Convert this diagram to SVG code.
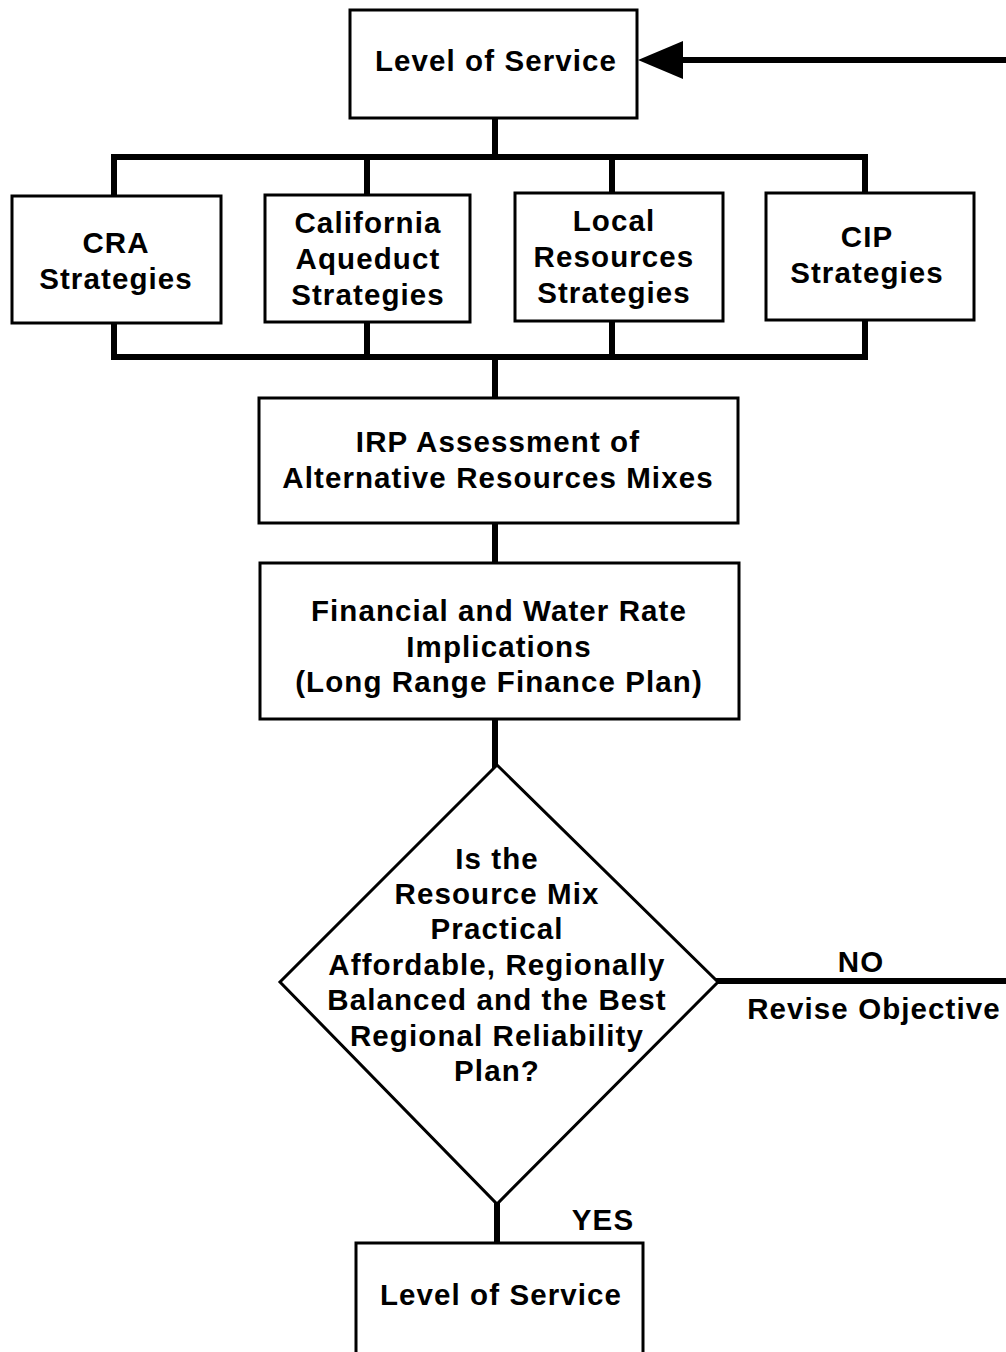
<svg xmlns="http://www.w3.org/2000/svg" width="1006" height="1352" viewBox="0 0 1006 1352">
<style>
.box{fill:#fff;stroke:#000;stroke-width:3}
.bus{fill:none;stroke:#000;stroke-width:6;stroke-linecap:square}
.t{font-family:"Liberation Sans",Arial,sans-serif;font-weight:bold;font-size:29.5px;letter-spacing:1.1px;fill:#000;text-anchor:middle}
</style>
<rect width="1006" height="1352" fill="#fff"/>
<g id="connectors">
<path class="bus" d="M683 60 H1006"/>
<polygon points="638,60 683,41 683,79" fill="#000"/>
<path class="bus" d="M495 118 V157 M114 157 H865 M114 157 V196 M367 157 V195 M612 157 V193 M865 157 V193"/>
<path class="bus" d="M114 323 V357 M367 322 V357 M612 321 V357 M865 320 V357 M114 357 H865 M495 357 V398"/>
<path class="bus" d="M495 523 V563 M495 719 V765"/>
<path class="bus" d="M718 981 H1006"/>
<path class="bus" d="M497 1204 V1243"/>
<text class="t" x="861" y="972">NO</text>
<text class="t" x="874" y="1019">Revise Objective</text>
<text class="t" x="603" y="1230">YES</text>
</g>
<g id="top-los">
<rect class="box" x="350" y="10" width="287" height="108"/>
<text class="t" x="496" y="71">Level of Service</text>
</g>
<g id="cra">
<rect class="box" x="12" y="196" width="209" height="127"/>
<text class="t" x="116" y="253">CRA</text>
<text class="t" x="116" y="289">Strategies</text>
</g>
<g id="california">
<rect class="box" x="265" y="195" width="205" height="127"/>
<text class="t" x="368" y="233">California</text>
<text class="t" x="368" y="269">Aqueduct</text>
<text class="t" x="368" y="305">Strategies</text>
</g>
<g id="local">
<rect class="box" x="515" y="193" width="208" height="128"/>
<text class="t" x="614" y="231">Local</text>
<text class="t" x="614" y="267">Resources</text>
<text class="t" x="614" y="303">Strategies</text>
</g>
<g id="cip">
<rect class="box" x="766" y="193" width="208" height="127"/>
<text class="t" x="867" y="247">CIP</text>
<text class="t" x="867" y="283">Strategies</text>
</g>
<g id="irp">
<rect class="box" x="259" y="398" width="479" height="125"/>
<text class="t" x="498" y="452">IRP Assessment of</text>
<text class="t" x="498" y="488">Alternative Resources Mixes</text>
</g>
<g id="financial">
<rect class="box" x="260" y="563" width="479" height="156"/>
<text class="t" x="499" y="621">Financial and Water Rate</text>
<text class="t" x="499" y="657">Implications</text>
<text class="t" x="499" y="692">(Long Range Finance Plan)</text>
</g>
<g id="decision">
<polygon class="box" points="497,765 718,982 497,1204 280,982"/>
<text class="t" x="497" y="869">Is the</text>
<text class="t" x="497" y="904">Resource Mix</text>
<text class="t" x="497" y="939">Practical</text>
<text class="t" x="497" y="975">Affordable, Regionally</text>
<text class="t" x="497" y="1010">Balanced and the Best</text>
<text class="t" x="497" y="1046">Regional Reliability</text>
<text class="t" x="497" y="1081">Plan?</text>
</g>
<g id="bottom-los">
<rect class="box" x="356" y="1243" width="287" height="120"/>
<text class="t" x="501" y="1305">Level of Service</text>
</g>
</svg>
